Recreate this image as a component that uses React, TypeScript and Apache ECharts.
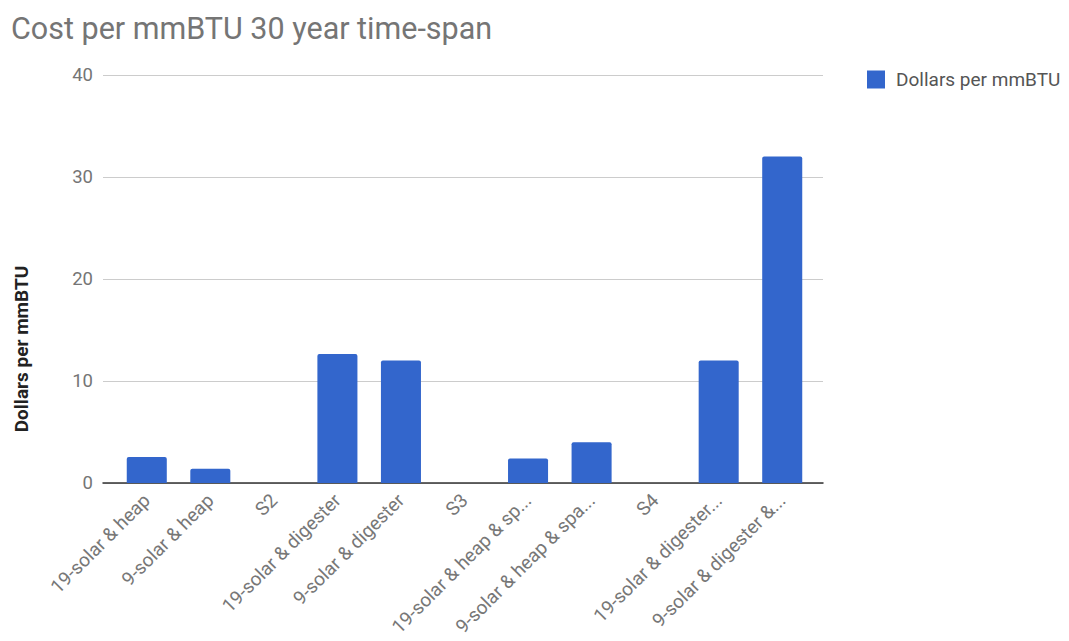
import React, { useEffect, useRef } from "react";
import * as echarts from "echarts";

const categories = [
  "19-solar & heap",
  "9-solar & heap",
  "S2",
  "19-solar & digester",
  "9-solar & digester",
  "S3",
  "19-solar & heap & sp...",
  "9-solar & heap & spa...",
  "S4",
  "19-solar & digester...",
  "9-solar & digester &...",
];
const dollarsPerMmBTU = [2.55, 1.4, 0, 12.65, 12.0, 0, 2.4, 4.0, 0, 12.0, 32.0];
const yTicks = [0, 10, 20, 30, 40];
const seriesName = "Dollars per mmBTU";
const titleText = "Cost per mmBTU 30 year time-span";
const yAxisTitle = "Dollars per mmBTU";

const FONT = "Roboto, Arial, sans-serif";

export default function App() {
  const ref = useRef<HTMLDivElement>(null);
  useEffect(() => {
    if (!ref.current) return;
    const chart = echarts.init(ref.current, undefined, { renderer: "svg" });
    chart.setOption({
      animation: false,
      backgroundColor: "#ffffff",
      textStyle: { fontFamily: FONT },
      title: {
        text: titleText,
        left: 6,
        top: 8,
        textStyle: { fontFamily: FONT, fontSize: 30.5, fontWeight: "normal", color: "#757575" },
      },
      legend: {
        data: [seriesName],
        left: 862,
        top: 65,
        icon: "rect",
        itemWidth: 18,
        itemHeight: 18,
        itemGap: 10,
        textStyle: { fontFamily: FONT, fontSize: 19, color: "#555", padding: [0, 0, 0, 6] },
      },
      grid: [
        { left: 103, right: 246, top: 75, bottom: 158, containLabel: false },
        { left: 115, right: 255, top: 75, bottom: 158, containLabel: false },
      ],
      xAxis: [
        {
          type: "value",
          gridIndex: 0,
          min: 0,
          max: 1,
          axisLine: { show: true, onZero: false, lineStyle: { color: "#333", width: 1.5 } },
          axisTick: { show: false },
          axisLabel: { show: false },
          splitLine: { show: false },
        },
        {
          type: "category",
          gridIndex: 1,
          data: categories,
          axisLine: { show: false },
          axisTick: { show: false },
          axisLabel: {
            interval: 0,
            rotate: 45,
            margin: 14,
            padding: [32, 0, 0, 0],
            fontFamily: FONT,
            fontSize: 19,
            color: "#777",
          },
        },
      ],
      yAxis: [
        {
          type: "value",
          gridIndex: 0,
          min: 0,
          max: 40,
          interval: 10,
          axisLine: { show: false },
          axisTick: { show: false },
          splitLine: { lineStyle: { color: "#cccccc", width: 1 } },
          axisLabel: {
            margin: 10,
            fontFamily: FONT,
            fontSize: 18.5,
            color: "#757575",
            formatter: (v: number) => (yTicks.includes(v) ? String(v) : ""),
          },
        },
        {
          type: "value",
          gridIndex: 1,
          min: 0,
          max: 40,
          interval: 10,
          show: false,
          splitLine: { show: false },
        },
      ],
      graphic: [
        {
          type: "text",
          x: 21,
          y: 349,
          rotation: Math.PI / 2,
          style: {
            text: yAxisTitle,
            fontFamily: FONT,
            fontSize: 19,
            fontWeight: "bold",
            fill: "#222",
            textAlign: "center",
            textVerticalAlign: "middle",
          },
        },
      ],
      series: [
        {
          name: seriesName,
          type: "bar",
          xAxisIndex: 1,
          yAxisIndex: 1,
          data: dollarsPerMmBTU,
          barCategoryGap: "37%",
          itemStyle: { color: "#3366cc", borderRadius: [2, 2, 0, 0] },
        },
      ],
    });
    return () => chart.dispose();
  }, []);
  return <div ref={ref} style={{ width: 1069, height: 641, margin: -8 }} />;
}
